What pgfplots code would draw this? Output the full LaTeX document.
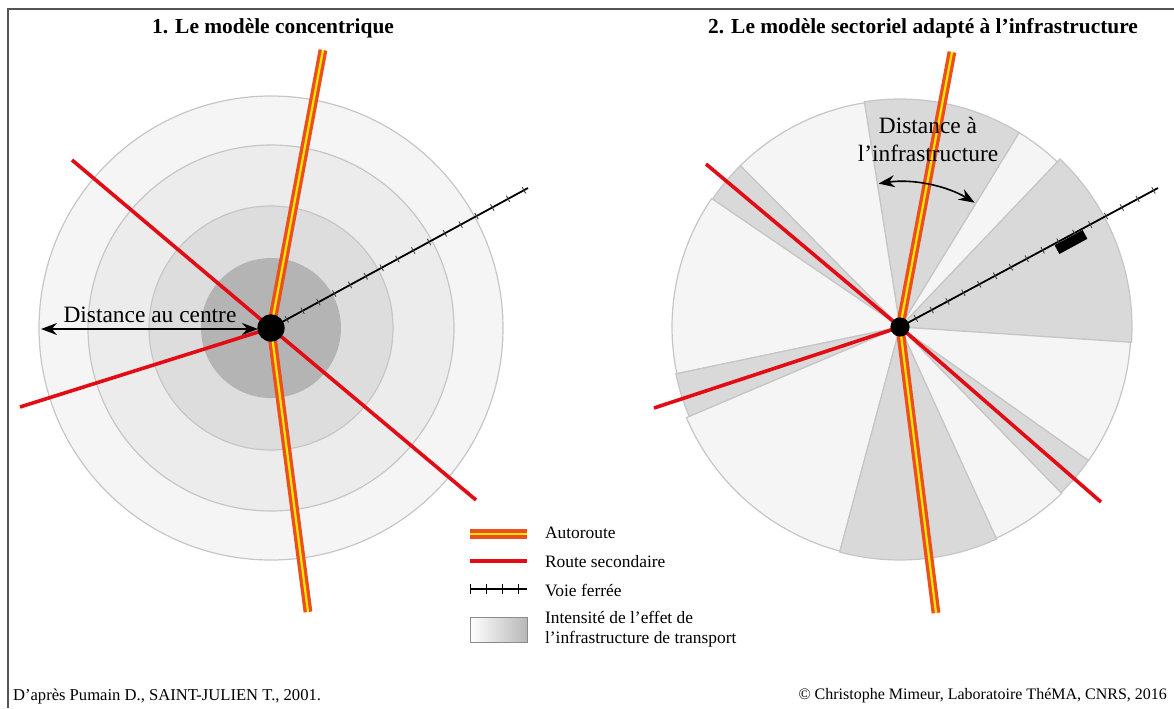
\documentclass[border=0pt]{standalone}
\usepackage{fontspec}
\setmainfont{Liberation Serif}
\usepackage{pgfplots}
\pgfplotsset{compat=1.18}
\usetikzlibrary{arrows.meta,decorations.pathreplacing}

\definecolor{ringA}{RGB}{245,245,245}
\definecolor{ringB}{RGB}{236,236,236}
\definecolor{ringC}{RGB}{221,221,221}
\definecolor{ringD}{RGB}{180,180,180}
\definecolor{secL}{RGB}{245,245,245}
\definecolor{secD}{RGB}{217,217,217}
\definecolor{edge}{RGB}{198,198,198}
\definecolor{road}{RGB}{228,12,20}
\definecolor{motor}{RGB}{236,78,30}
\definecolor{stripe}{RGB}{255,232,0}
\definecolor{frame}{RGB}{85,85,85}

\begin{document}
\begin{tikzpicture}
\begin{axis}[
    hide axis,
    x=0.5pt, y=0.5pt, y dir=reverse,
    xmin=0, xmax=1174, ymin=0, ymax=708,
    enlargelimits=false,
    clip=false,
]
\coordinate (BL) at (axis cs:0,708);
\coordinate (TR) at (axis cs:1174,0);

% frame
\addplot[frame, line width=0.8pt] coordinates {(8,708) (8,9) (1174,9)};

% ---- 1. concentric model (radii in pt, 1 px = 0.5 pt)
\filldraw[fill=ringA, draw=edge, line width=0.6pt] (axis cs:271,328) circle[radius=116pt];
\filldraw[fill=ringB, draw=edge, line width=0.6pt] (axis cs:271,328) circle[radius=91.5pt];
\filldraw[fill=ringC, draw=edge, line width=0.6pt] (axis cs:271,328) circle[radius=61pt];
\fill[ringD] (axis cs:271,328) circle[radius=35pt];

% ---- 2. sector model (start angle, end angle, radius)
\filldraw[fill=secD, draw=edge, line width=0.6pt] (axis cs:900,327) -- ++(-3.8:116pt) arc[start angle=-3.8, end angle=46.4, radius=116pt] -- cycle;
\filldraw[fill=secL, draw=edge, line width=0.6pt] (axis cs:900,327) -- ++(46.4:114pt) arc[start angle=46.4, end angle=58.5, radius=114pt] -- cycle;
\filldraw[fill=secD, draw=edge, line width=0.6pt] (axis cs:900,327) -- ++(58.5:114pt) arc[start angle=58.5, end angle=99, radius=114pt] -- cycle;
\filldraw[fill=secL, draw=edge, line width=0.6pt] (axis cs:900,327) -- ++(99:113.5pt) arc[start angle=99, end angle=134.7, radius=113.5pt] -- cycle;
\filldraw[fill=secD, draw=edge, line width=0.6pt] (axis cs:900,327) -- ++(134.7:113.5pt) arc[start angle=134.7, end angle=145.7, radius=113.5pt] -- cycle;
\filldraw[fill=secL, draw=edge, line width=0.6pt] (axis cs:900,327) -- ++(145.7:114pt) arc[start angle=145.7, end angle=191.8, radius=114pt] -- cycle;
\filldraw[fill=secD, draw=edge, line width=0.6pt] (axis cs:900,327) -- ++(191.8:114.5pt) arc[start angle=191.8, end angle=203, radius=114.5pt] -- cycle;
\filldraw[fill=secL, draw=edge, line width=0.6pt] (axis cs:900,327) -- ++(203:116pt) arc[start angle=203, end angle=255, radius=116pt] -- cycle;
\filldraw[fill=secD, draw=edge, line width=0.6pt] (axis cs:900,327) -- ++(255:116.5pt) arc[start angle=255, end angle=294.5, radius=116.5pt] -- cycle;
\filldraw[fill=secL, draw=edge, line width=0.6pt] (axis cs:900,327) -- ++(294.5:116pt) arc[start angle=294.5, end angle=314.2, radius=116pt] -- cycle;
\filldraw[fill=secD, draw=edge, line width=0.6pt] (axis cs:900,327) -- ++(314.2:115.5pt) arc[start angle=314.2, end angle=324.7, radius=115.5pt] -- cycle;
\filldraw[fill=secL, draw=edge, line width=0.6pt] (axis cs:900,327) -- ++(324.7:115.5pt) arc[start angle=324.7, end angle=356.2, radius=115.5pt] -- cycle;

% ---- networks, left
\addplot[road, line width=1.8pt] coordinates {(72,160) (271,328) (476,500)};
\addplot[road, line width=1.8pt] coordinates {(20,407) (271,328)};
\addplot[motor, line width=4.4pt, line join=round] coordinates {(323,50) (271,328) (308,612)};
\addplot[stripe, line width=1.1pt, line join=round] coordinates {(323,50) (271,328) (308,612)};
\addplot[black, line width=0.9pt, postaction={decorate, draw=black!75, line width=0.45pt,
    decoration={ticks, segment length=9pt, amplitude=1.8pt}}] coordinates {(271,328) (528,188)};

% ---- networks, right
\addplot[road, line width=1.8pt] coordinates {(706,164) (900,327) (1101,502)};
\addplot[road, line width=1.8pt] coordinates {(654,408) (900,327)};
\addplot[motor, line width=4.4pt, line join=round] coordinates {(952,52) (900,327) (936,613)};
\addplot[stripe, line width=1.1pt, line join=round] coordinates {(952,52) (900,327) (936,613)};
\addplot[black, line width=0.9pt, postaction={decorate, draw=black!75, line width=0.45pt,
    decoration={ticks, segment length=9pt, amplitude=1.8pt}}] coordinates {(900,327) (1158,188)};
\addplot[black, line width=5pt] coordinates {(1057,249.6) (1085,234.4)};

% centres
\fill[black] (axis cs:271,328) circle[radius=6.8pt];
\fill[black] (axis cs:900,327) circle[radius=4.8pt];

% distance arrows
\addplot[black, line width=0.8pt, {Stealth[length=8pt,width=6pt]}-{Stealth[length=8pt,width=6pt]}] coordinates {(41,329) (258,329)};
\draw[black, line width=0.8pt, {Stealth[length=8pt,width=6pt]}-{Stealth[length=8pt,width=6pt]}]
    (axis cs:878.6,183.6) arc[start angle=98.5, end angle=59, radius=72.5pt];

\node[font=\fontsize{11.7}{14}\selectfont] at (axis cs:150,315) {Distance au centre};
\node[font=\fontsize{11.7}{14}\selectfont, align=center] at (axis cs:928,139) {Distance à\\l’infrastructure};

% titles
\node[font=\bfseries\fontsize{10.7}{13}\selectfont] at (axis cs:273,28) {1. Le modèle concentrique};
\node[font=\bfseries\fontsize{10.7}{13}\selectfont] at (axis cs:923,28) {2. Le modèle sectoriel adapté à l’infrastructure};

% legend
\addplot[motor, line width=5pt] coordinates {(470,534) (527,534)};
\addplot[stripe, line width=1.1pt] coordinates {(470,534) (527,534)};
\addplot[road, line width=2pt] coordinates {(470,561) (527,561)};
\addplot[black, line width=0.7pt, postaction={decorate, draw, line width=0.5pt,
    decoration={ticks, segment length=8pt, amplitude=2.5pt}}] coordinates {(470,589) (527,589)};
\shadedraw[left color=white, right color=black!28, draw=black!45, line width=0.5pt]
    (axis cs:470,617) rectangle (axis cs:527,642);
\node[font=\fontsize{8.7}{10.2}\selectfont, anchor=west] at (axis cs:538,533) {Autoroute};
\node[font=\fontsize{8.7}{10.2}\selectfont, anchor=west] at (axis cs:538,562) {Route secondaire};
\node[font=\fontsize{8.7}{10.2}\selectfont, anchor=west] at (axis cs:538,590) {Voie ferrée};
\node[font=\fontsize{8.7}{10.2}\selectfont, anchor=west, align=left] at (axis cs:538,629)
    {Intensité de l’effet de\\l’infrastructure de transport};

% footer
\node[font=\fontsize{8.3}{10}\selectfont, anchor=west] at (axis cs:6,696) {D’après Pumain D., SAINT-JULIEN T., 2001.};
\node[font=\fontsize{8.0}{10}\selectfont, anchor=east] at (axis cs:1174,696) {© Christophe Mimeur, Laboratoire ThéMA, CNRS, 2016};
\end{axis}
\pgfresetboundingbox
\path (BL) rectangle (TR);
\end{tikzpicture}
\end{document}
